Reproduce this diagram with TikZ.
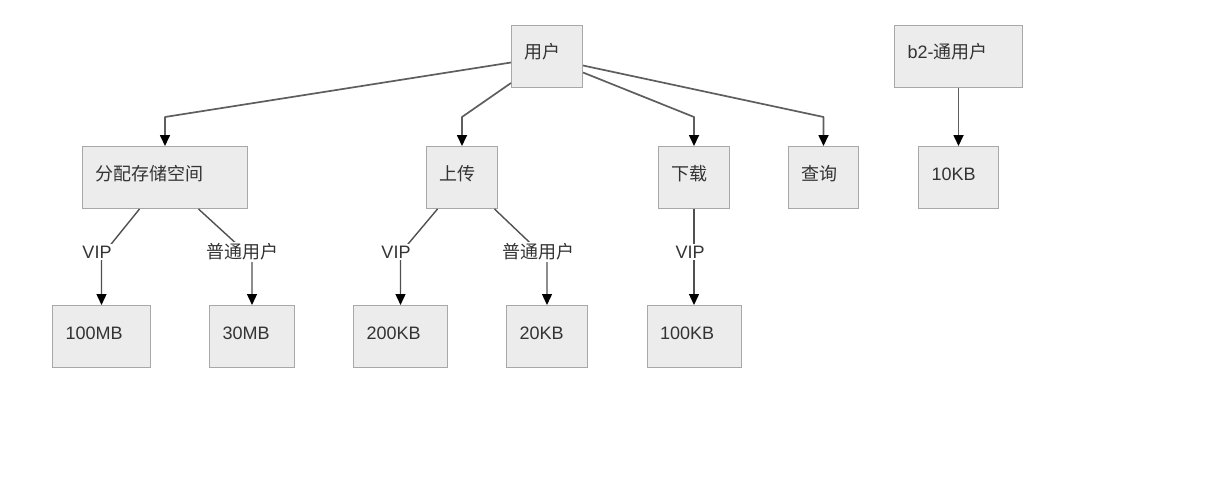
\documentclass[tikz,border=0pt]{standalone}
\usepackage{fontspec}
\setmainfont{Liberation Sans}
\newfontfamily\cjk{Noto Sans CJK SC}
\usepackage{tikz}
\usetikzlibrary{calc}
\usetikzlibrary{arrows.meta}
\definecolor{boxfill}{HTML}{ECECEC}
\definecolor{boxline}{HTML}{A8A8A8}
\definecolor{edgecol}{HTML}{5E5E5E}
\definecolor{textcol}{HTML}{333333}
\tikzset{
  every node/.style={font=\fontsize{18}{21}\selectfont, text=textcol},
  box/.style={draw=boxline, fill=boxfill, line width=1pt, anchor=north west,
    minimum height=62pt, inner xsep=13pt, inner ysep=0pt, text width=#1,
    align=left, text height=13pt, text depth=8pt},
  link/.style={draw=edgecol, line width=1.7pt, line join=round,
    -{Triangle[length=11pt,width=10pt,color=black]}},
  sublink/.style={link, line width=1.4pt, draw=edgecol!85!black},
  lbl/.style={fill=white, inner xsep=1pt, inner ysep=2pt}
}

\begin{document}
\begin{tikzpicture}[x=1pt,y=-1pt]
\useasboundingbox (0,0) rectangle (1222,476);

% top row
\node[box=45pt] (user) at (511,25) {\cjk 用户};
\node[box=102pt] (b2) at (894,25) {b2-{\cjk 通用户}};

% functions
\node[box=139pt] (alloc) at (82,146) {\cjk 分配存储空间};
\node[box=45pt] (upload) at (426,146) {\cjk 上传};
\node[box=45pt] (download) at (658,146) {\cjk 下载};
\node[box=44pt] (query) at (788,146) {\cjk 查询};
\node[box=54pt] (kb10) at (918,146) {10KB};

% limits
\node[box=72pt] (mb100) at (52,305) {100MB};
\node[box=59pt] (mb30) at (209,305) {30MB};
\node[box=68pt] (kb200) at (353,305) {200KB};
\node[box=55pt] (kb20) at (506,305) {20KB};
\node[box=68pt] (kb100) at (646.5,305) {100KB};

% user -> functions
\draw[link] ($(user.west)+(0,6)$) -- ($(alloc.north)+(0,-29)$) -- (alloc.north);
\draw[link] ($(user.south west)+(0,-5)$) -- ($(upload.north)+(0,-29)$) -- (upload.north);
\draw[link] ($(user.east)+(0,16)$) -- ($(download.north)+(0,-29)$) -- (download.north);
\draw[link] ($(user.east)+(0,9)$) -- ($(query.north)+(0,-29)$) -- (query.north);
\draw[link] (b2.south -| kb10.north) -- (kb10.north);

% functions -> limits
\draw[sublink] ($(alloc.south)+(-25.5,0)$) -- ($(mb100.north)+(0,-49)$) -- (mb100.north);
\draw[sublink] ($(alloc.south)+(33.5,0)$) -- ($(mb30.north)+(0,-47)$) -- (mb30.north);
\draw[sublink] ($(upload.south)+(-24.5,0)$) -- ($(kb200.north)+(0,-52)$) -- (kb200.north);
\draw[sublink] ($(upload.south)+(32.5,0)$) -- ($(kb20.north)+(0,-46)$) -- (kb20.north);
\draw[sublink] (download.south) -- (kb100.north);

% edge labels
\node[lbl] (v1) at (97,252) {VIP};
\node[lbl] (n1) at (242,252) {\cjk 普通用户};
\node[lbl] (v2) at (396,252) {VIP};
\node[lbl] (n2) at (538,252) {\cjk 普通用户};
\node[lbl] (v3) at (690,252) {VIP};
\end{tikzpicture}
\end{document}
